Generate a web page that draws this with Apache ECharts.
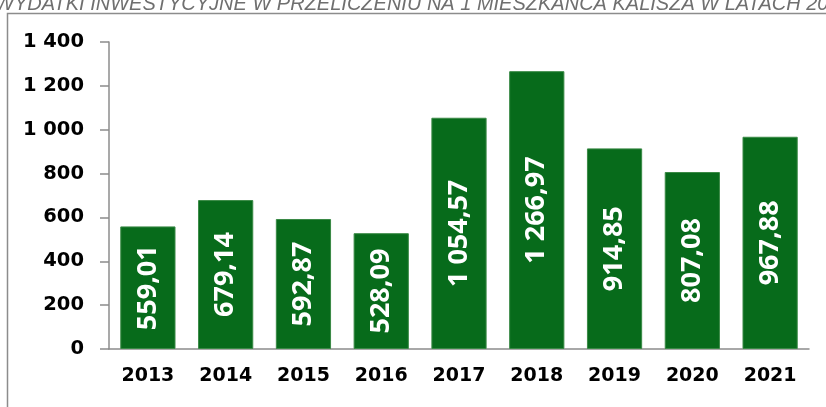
<!DOCTYPE html>
<html>
<head>
<meta charset="utf-8">
<script src="https://cdn.jsdelivr.net/npm/echarts@6/dist/echarts.min.js"></script>
<style>
  html, body { margin: 0; padding: 0; background: #fff; }
  #chart { width: 826px; height: 407px; }
</style>
</head>
<body>
<div id="chart"></div>
<script>
// dane
var years = ['2013', '2014', '2015', '2016', '2017', '2018', '2019', '2020', '2021'];
var values = [559.01, 679.14, 592.87, 528.09, 1054.57, 1266.97, 914.85, 807.08, 967.88];
var titleText = 'WYDATKI INWESTYCYJNE W PRZELICZENIU NA 1 MIESZKAŃCA KALISZA W LATACH 2013-2021';

// liczby w formacie polskim: spacja dla tysięcy, przecinek dziesiętny
function fmt(v, dec) {
    var s = v.toFixed(dec).split('.');
    var int = s[0].replace(/\B(?=(\d{3})+(?!\d))/g, ' ');
    return s.length > 1 ? int + ',' + s[1] : int;
}

var axisGray = '#8c8c8c';

var option = {
    animation: false,
    title: {
        text: titleText,
        left: -10,
        top: -11,
        textStyle: {
            fontFamily: 'Liberation Sans',
            fontStyle: 'italic',
            fontWeight: 'normal',
            fontSize: 20,
            color: '#6f6f6f'
        }
    },
    graphic: [
        {
            type: 'rect',
            shape: { x: 7.5, y: 13.5, width: 900, height: 500 },
            style: { fill: 'none', stroke: axisGray, lineWidth: 1.5 },
            z: -1
        }
    ],
    grid: {
        left: 109,
        right: 17,
        top: 42,
        bottom: 58
    },
    xAxis: {
        type: 'category',
        data: years,
        axisLine: { lineStyle: { color: axisGray, width: 1.5 } },
        axisTick: { length: 8, lineStyle: { color: axisGray, width: 1.5 } },
        axisLabel: {
            margin: 18,
            fontFamily: 'DejaVu Sans',
            fontWeight: 'bold',
            fontSize: 19,
            color: '#000'
        }
    },
    yAxis: {
        type: 'value',
        min: 0,
        max: 1400,
        interval: 200,
        splitLine: { show: false },
        axisLine: { show: true, lineStyle: { color: axisGray, width: 1.5 } },
        axisTick: { show: true, length: 9, lineStyle: { color: axisGray, width: 1.5 } },
        axisLabel: {
            margin: 25,
            fontFamily: 'DejaVu Sans',
            fontWeight: 'bold',
            fontSize: 19.5,
            color: '#000',
            formatter: function (v) { return fmt(v, 0); }
        }
    },
    series: [
        {
            type: 'bar',
            data: values,
            barCategoryGap: '29%',
            itemStyle: {
                color: '#076b1b',
                borderColor: '#3a8a46',
                borderWidth: 1
            },
            label: {
                show: true,
                position: 'inside',
                rotate: 90,
                fontFamily: 'Open Sans',
                fontWeight: 'bold',
                fontSize: 27,
                color: '#fff',
                formatter: function (p) { return fmt(p.value, 2); }
            }
        }
    ]
};

// czekamy na fonty, żeby rysunek był zawsze taki sam
function draw() {
    var myChart = echarts.init(document.getElementById('chart'));
    myChart.setOption(option);
}

if (document.fonts && document.fonts.load) {
    Promise.all([
        document.fonts.load('italic 20px "Liberation Sans"'),
        document.fonts.load('bold 20px "DejaVu Sans"'),
        document.fonts.load('bold 27px "Open Sans"')
    ]).then(draw, draw);
} else {
    draw();
}
</script>
</body>
</html>
